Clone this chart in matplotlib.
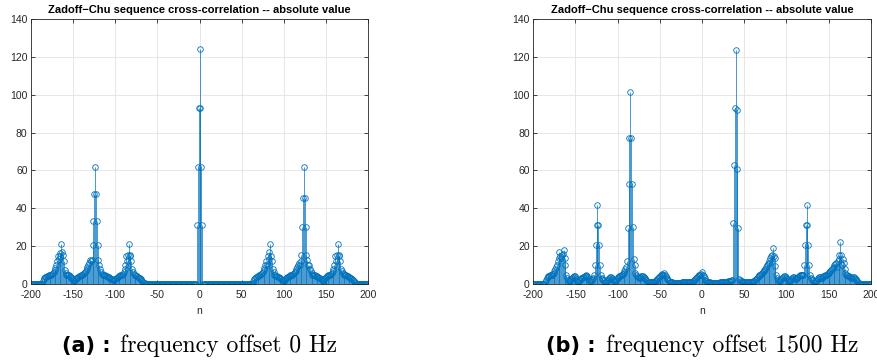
import numpy as np
import matplotlib
matplotlib.use("Agg")
import matplotlib.pyplot as plt

# ---------------- data ----------------
n = np.arange(-200, 201)

# panel (a): frequency offset 0 Hz  (n = -200 ... 200)
a_left = [  # n = -200 .. -65
    0, 0, 0, 0, 0, 0, 0, 0, 0, 0, 0, 0, 0, 0,                      # -200..-187
    1.5, 2.5, 3, 3.5, 3.5, 4, 4, 4.5, 4.5, 5, 5, 5.5, 6, 6.5,      # -186..-173
    7.5, 8.5, 10, 12, 15, 13, 16.5, 15, 21, 17, 15.5, 12, 7.5, 6,  # -172..-159
    5, 5, 4.5, 4.5, 4, 3.5, 3, 2.5, 2, 1.5, 2, 2.5, 3, 3,          # -158..-145
    3.5, 4, 4, 4.5, 4.5, 5, 5.5, 6, 6.5, 7, 8, 9, 10, 11,          # -144..-131
    12.5, 12, 12.5, 20.5, 33.5, 47.5, 62, 47.5, 33.5, 20.5, 12.5,  # -130..-120
    10, 8, 6.5, 5.5, 5, 5, 4.5, 4.5, 4, 4, 3.5, 3.5, 3, 3,         # -119..-106
    2.5, 2.5, 2, 2, 2, 2.5, 3, 3, 3.5, 4, 4, 4.5, 5, 5,            # -105..-92
    5.5, 6.5, 8, 10, 15, 12, 15.5, 21, 15, 15.5, 12, 8, 6.5, 5.5,  # -91..-78
    5, 4.5, 4, 4, 3.5, 3, 3, 2.5, 2, 1.5, 1, 0.5, 0.3,             # -77..-65
]
a_mid = [0] * 61 + [31, 62, 93, 124, 93, 62, 31] + [0] * 59      # n = -64 .. 62
a_right = [  # n = 63 .. 200
    0.5, 1.5, 2.5, 3, 3.5, 3.5, 4, 4, 4.5, 5, 5.5, 6, 6.5, 7.5,    # 63..76
    8.5, 10, 12, 10, 15, 13, 17, 21, 15, 12, 8, 6.5, 5, 4.5,       # 77..90
    4, 4, 3.5, 3.5, 3, 3, 2.5, 2, 2, 1.5, 2, 2.5, 3, 3.5,          # 91..104
    3.5, 4, 4, 4.5, 4.5, 5, 5.5, 6, 6.5, 7, 8, 9, 10, 11,          # 105..118
    10, 12, 15.5, 30, 45.5, 62, 45.5, 30, 15.5, 12.5, 10, 10, 8,   # 119..131
    7, 6, 5, 5, 4.5, 4.5, 4, 4, 3.5, 3.5, 3, 3, 2.5, 2,            # 132..145
    1.5, 2, 2.5, 3, 3.5, 4, 4, 4.5, 5, 5, 5.5, 6, 7, 8,            # 146..159
    10, 15, 12, 15.5, 21, 15, 15.5, 12, 8, 7, 6, 5.5, 5, 4.5,      # 160..173
    4.5, 4, 4, 3.5, 3.5, 3, 3, 2.5, 2, 1.5, 1, 0.5,                # 174..185
    0, 0, 0, 0, 0, 0, 0, 0, 0, 0, 0, 0, 0, 0, 0,                   # 186..200
]

# panel (b): frequency offset 1500 Hz
b_left = [  # n = -200 .. -101
    0, 0, 0, 0, 0, 0, 0, 0, 0, 0, 0, 0, 0, 0,                      # -200..-187
    1, 2, 3, 3.5, 4, 4, 4.5, 5, 5, 5.5, 6, 7, 8, 9,                # -186..-173
    10, 12, 13.5, 17, 15, 14, 15.5, 16, 18, 14, 10, 5, 3, 2,       # -172..-159
    1.5, 1.5, 2, 2.5, 3, 3.5, 4, 4, 3.5, 2.5, 1.5, 1, 1.5, 2,      # -158..-145
    2.5, 3, 3, 3.5, 3.5, 4, 4, 4.5, 4, 3, 2, 1.5, 1.5, 2,          # -144..-131
    2.5, 3, 5, 10, 20.5, 31, 41.5, 31, 20.5, 10, 4.5, 3, 2.5, 2,   # -130..-117
    1.5, 1, 1, 1.5, 2, 2.5, 3, 3.5, 3.5, 3, 2.5, 2, 1.5, 1.5,      # -116..-103
    2, 2.5,                                                        # -102..-101
]
b_mid = [  # n = -100 .. 100
    3, 3.5, 4, 4, 4.5, 5, 5.5, 6, 7, 8, 9, 12,                     # -100..-89
    29.5, 53, 77, 101.5, 77, 53, 30, 13, 10, 6,                    # -88..-79 (peak -84)
    5, 4, 3.5, 3, 3, 3.5, 4, 4, 4, 3.5, 3, 2.5, 2, 1.5,            # -78..-65
    1, 1, 0.8, 0.8, 0.8, 1, 1, 1.2, 1.5, 1.5, 2, 2.5, 3, 3.5,      # -64..-51
    4, 4.5, 5, 5.5, 5, 6, 5, 4, 3, 2.5, 2, 1.5, 1.2, 1,            # -50..-37
    1, 0.8, 0.7, 0.6, 0.6, 0.5, 0.5, 0.5, 0.6, 0.6, 0.7, 0.7, 0.8, 0.8,  # -36..-23
    0.9, 1, 1, 0.9, 0.8, 0.8, 0.9, 1, 1, 1.2, 1.2, 1.4, 1.6, 2,    # -22..-9
    2.5, 3, 3.5, 4, 4.5, 5, 5, 5.5, 6.5, 5, 4, 3, 2, 1.5,          # -8..5
    1.2, 1, 0.9, 0.8, 0.7, 0.7, 0.6, 0.6, 0.6, 0.5, 0.5, 0.6, 0.6, 0.7,  # 6..19
    0.7, 0.8, 0.8, 0.9, 1, 1, 1, 1.1, 1.2, 1.2, 1.3, 1.4, 1.5, 1.5,      # 20..33
    1.8, 2, 2.2, 32, 63, 93, 123.5, 92, 61, 29.5, 2.5, 2, 1.8, 1.5,      # 34..47
    1.2, 1, 1, 0.9, 0.8, 0.8, 0.8, 0.9, 1, 1, 1.1, 1.2, 1.3, 1.4,        # 48..61
    1.5, 2, 2.5, 3, 3.5, 4, 4.5, 5, 5.5, 6, 6.5, 7, 7.5, 8,        # 62..75
    9, 10, 10.5, 11, 12, 13.5, 15, 15.5, 19, 15, 13.5, 9.5, 5, 3,  # 76..89
    2, 1.5, 1.5, 2, 2.5, 3, 3.5, 4, 4, 3.5, 3,                     # 90..100
]
b_right = [  # n = 101 .. 200
    2.5, 2, 1.5, 1.5, 2, 2.5, 3, 3.5, 3.5, 3, 2.5, 2.5, 3, 3.5,    # 101..114
    4, 4.5, 5, 5, 4.5, 5, 10, 20.5, 31, 41.5, 31, 20.5, 10, 4.5,   # 115..128
    3, 2.5, 2, 1.5, 1, 1, 1.5, 2, 2.5, 3, 3.5, 3.5, 3, 3,          # 129..142
    3.5, 4, 4, 4.5, 5, 5, 5.5, 6, 6.5, 7, 7.5, 8, 8.5, 9,          # 143..156
    10, 10.5, 11, 9, 12, 13, 15.5, 22, 15.5, 10, 13, 11, 8, 6,     # 157..170
    5, 4.5, 4, 4, 3.5, 3.5, 3, 3, 3.5, 3.5, 3, 2.5, 2, 1.5,        # 171..184
    1, 0.5, 0, 0, 0, 0, 0, 0, 0, 0, 0, 0, 0, 0, 0, 0,              # 185..200
]

vals_a = np.array(a_left + a_mid + a_right, dtype=float)
vals_b = np.array(b_left + b_mid + b_right, dtype=float)
assert len(vals_a) == len(n), len(vals_a)
assert len(vals_b) == len(n), len(vals_b)

title = "Zadoff\u2212Chu sequence cross-correlation -- absolute value"
xticks = [-200, -150, -100, -50, 0, 50, 100, 150, 200]
yticks = [0, 20, 40, 60, 80, 100, 120, 140]
captions = [("(a) :", "frequency offset 0 Hz"), ("(b) :", "frequency offset 1500 Hz")]

# ---------------- style ----------------
plt.rcParams['font.family'] = ['Liberation Sans', 'DejaVu Sans']
plt.rcParams['axes.unicode_minus'] = False
blue = '#0072BD'
dark = '#262626'

W, H = 878, 360
fig = plt.figure(figsize=(W / 100, H / 100), dpi=100)

ax_rects = [
    (31 / W, 76 / H, 337 / W, 265 / H),
    (533.3 / W, 76 / H, 337.4 / W, 265 / H),
]

for rect, vals in zip(ax_rects, [vals_a, vals_b]):
    ax = fig.add_axes(rect)
    ml, sl, bl = ax.stem(n, vals, basefmt=' ')
    plt.setp(sl, color=blue, linewidth=0.5)
    plt.setp(ml, marker='o', markersize=4.0, markerfacecolor='none',
             markeredgecolor=blue, markeredgewidth=0.6)
    ax.set_xlim(-200, 200)
    ax.set_ylim(0, 140)
    ax.set_xticks(xticks)
    ax.set_yticks(yticks)
    ax.grid(True, color='#e3e3e3', linewidth=0.6)
    ax.set_axisbelow(True)
    for s in ax.spines.values():
        s.set_color(dark)
        s.set_linewidth(0.6)
    ax.tick_params(direction='in', length=3, width=0.6, colors=dark,
                   labelsize=7.5, top=True, right=True)
    ax.tick_params(axis='x', pad=4.5)
    ax.tick_params(axis='y', pad=2.5)
    ax.set_title(title, fontsize=8, fontweight='bold', color='black', pad=4)
    ax.set_xlabel('n', fontsize=7.5, color=dark, labelpad=4)

# captions: bold sans label + serif text, centered under each axes
fig.canvas.draw()
r = fig.canvas.get_renderer()
for rect, (lab, txt) in zip(ax_rects, captions):
    cx = rect[0] + rect[2] / 2
    yb = 8.3 / H
    t1 = fig.text(0, yb, lab, fontsize=15, fontweight='bold',
                  family='DejaVu Sans', va='baseline', ha='left')
    t2 = fig.text(0, yb, txt, fontsize=17, family='cmr10',
                  va='baseline', ha='left')
    fig.canvas.draw()
    w1 = t1.get_window_extent(r).width / W
    w2 = t2.get_window_extent(r).width / W
    gap = 10 / W
    x0 = cx - (w1 + gap + w2) / 2
    t1.set_x(x0)
    t2.set_x(x0 + w1 + gap)

fig.savefig('out.png', dpi=100)
